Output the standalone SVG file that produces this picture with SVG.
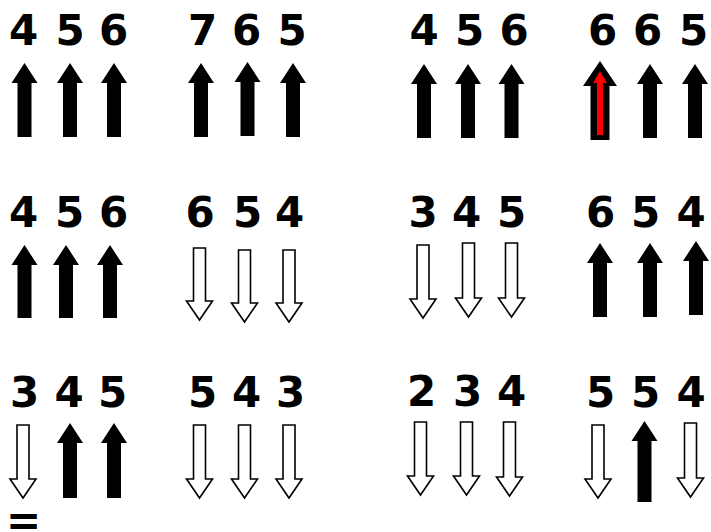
<svg xmlns="http://www.w3.org/2000/svg" width="711" height="532" viewBox="0 0 711 532">
<style>
text{font-family:"DejaVu Sans","Liberation Sans",sans-serif;font-weight:bold;font-size:42px;fill:#000;text-anchor:middle}
.up{fill:#000;stroke:none}
.dn{fill:#fff;stroke:#000;stroke-width:1.6;stroke-linejoin:miter}
.red{fill:#f00;stroke:none}
</style>
<rect width="711" height="532" fill="#fff"/>
<g id="r1g1">
<text x="23.5" y="45">4</text><text x="70" y="45">5</text><text x="113.5" y="45">6</text>
<polygon class="up" points="24.5,63 37.5,83 31.5,83 31.5,137 17.5,137 17.5,83 11.5,83"/>
<polygon class="up" points="70,63 83,83 77,83 77,137 63,137 63,83 57,83"/>
<polygon class="up" points="114,63 127,83 121,83 121,137 107,137 107,83 101,83"/>
</g>
<g id="r1g2">
<text x="202.5" y="45">7</text><text x="246.5" y="45">6</text><text x="292" y="45">5</text>
<polygon class="up" points="201,63 214,83 208,83 208,137 194,137 194,83 188,83"/>
<polygon class="up" points="247.5,62 260.5,82 254.5,82 254.5,136 240.5,136 240.5,82 234.5,82"/>
<polygon class="up" points="293,63 306,83 300,83 300,137 286,137 286,83 280,83"/>
</g>
<g id="r1g3">
<text x="424" y="45">4</text><text x="469.5" y="45">5</text><text x="514" y="45">6</text>
<polygon class="up" points="424,64 437,84 431,84 431,138 417,138 417,84 411,84"/>
<polygon class="up" points="468,64 481,84 475,84 475,138 461,138 461,84 455,84"/>
<polygon class="up" points="511.5,64 524.5,84 518.5,84 518.5,138 504.5,138 504.5,84 498.5,84"/>
</g>
<g id="r1g4">
<text x="602.5" y="45">6</text><text x="647.5" y="45">6</text><text x="693.5" y="45">5</text>
<polygon class="up" points="600,61 617,86 609.5,86 609.5,140 590.5,140 590.5,86 583,86"/>
<polygon class="red" points="600,71 607,83 603,83 603,135 597,135 597,83 593,83"/>
<polygon class="up" points="650,64 663,84 657,84 657,138 643,138 643,84 637,84"/>
<polygon class="up" points="695,64 708,84 702,84 702,138 688,138 688,84 682,84"/>
</g>
<g id="r2g1">
<text x="23.5" y="227">4</text><text x="69.5" y="227">5</text><text x="113.5" y="227">6</text>
<polygon class="up" points="24.5,245 37.5,265 31.5,265 31.5,318 17.5,318 17.5,265 11.5,265"/>
<polygon class="up" points="66,245 79,265 73,265 73,318 59,318 59,265 53,265"/>
<polygon class="up" points="110,245 123,265 117,265 117,318 103,318 103,265 97,265"/>
</g>
<g id="r2g2">
<text x="200" y="227">6</text><text x="247.5" y="227">5</text><text x="289.5" y="227">4</text>
<polygon class="dn" points="193.5,248 205.5,248 205.5,301 212.5,301 199.5,320 186.5,301 193.5,301"/>
<polygon class="dn" points="238.5,250 250.5,250 250.5,303 257.5,303 244.5,322 231.5,303 238.5,303"/>
<polygon class="dn" points="283,250 295,250 295,303 302,303 289,322 276,303 283,303"/>
</g>
<g id="r2g3">
<text x="423" y="227">3</text><text x="466.5" y="227">4</text><text x="511.5" y="227">5</text>
<polygon class="dn" points="417,245 429,245 429,299 436,299 423,318 410,299 417,299"/>
<polygon class="dn" points="462.5,243 474.5,243 474.5,298 481.5,298 468.5,317 455.5,298 462.5,298"/>
<polygon class="dn" points="505.5,243 517.5,243 517.5,298 524.5,298 511.5,317 498.5,298 505.5,298"/>
</g>
<g id="r2g4">
<text x="600.5" y="227">6</text><text x="645.5" y="227">5</text><text x="691" y="227">4</text>
<polygon class="up" points="600,243 613,263 607,263 607,317 593,317 593,263 587,263"/>
<polygon class="up" points="650,243 663,263 657,263 657,317 643,317 643,263 637,263"/>
<polygon class="up" points="696,241 709,261 703,261 703,315 689,315 689,261 683,261"/>
</g>
<g id="r3g1">
<text x="24.5" y="407">3</text><text x="69" y="407">4</text><text x="112.5" y="407">5</text>
<polygon class="dn" points="17,425 29,425 29,479 36,479 23,498 10,479 17,479"/>
<polygon class="up" points="70,423 83,443 77,443 77,498 63,498 63,443 57,443"/>
<polygon class="up" points="114,423 127,443 121,443 121,498 107,498 107,443 101,443"/>
<text x="23.5" y="535">=</text>
</g>
<g id="r3g2">
<text x="202.5" y="407">5</text><text x="246.5" y="407">4</text><text x="290.5" y="407">3</text>
<polygon class="dn" points="193.5,425 205.5,425 205.5,479 212.5,479 199.5,498 186.5,479 193.5,479"/>
<polygon class="dn" points="238.5,425 250.5,425 250.5,479 257.5,479 244.5,498 231.5,479 238.5,479"/>
<polygon class="dn" points="283,425 295,425 295,479 302,479 289,498 276,479 283,479"/>
</g>
<g id="r3g3">
<text x="421.5" y="406">2</text><text x="467.5" y="406">3</text><text x="511.5" y="406">4</text>
<polygon class="dn" points="414.5,422 426.5,422 426.5,476 433.5,476 420.5,495 407.5,476 414.5,476"/>
<polygon class="dn" points="460.5,422 472.5,422 472.5,476 479.5,476 466.5,495 453.5,476 460.5,476"/>
<polygon class="dn" points="503.5,422 515.5,422 515.5,477 522.5,477 509.5,496 496.5,477 503.5,477"/>
</g>
<g id="r3g4">
<text x="600.5" y="407">5</text><text x="645.5" y="407">5</text><text x="691" y="407">4</text>
<polygon class="dn" points="592,425 604,425 604,479 611,479 598,498 585,479 592,479"/>
<polygon class="up" points="644.5,421 657.5,441 651.5,441 651.5,502 637.5,502 637.5,441 631.5,441"/>
<polygon class="dn" points="684.5,423 696.5,423 696.5,478 703.5,478 690.5,497 677.5,478 684.5,478"/>
</g>
</svg>
